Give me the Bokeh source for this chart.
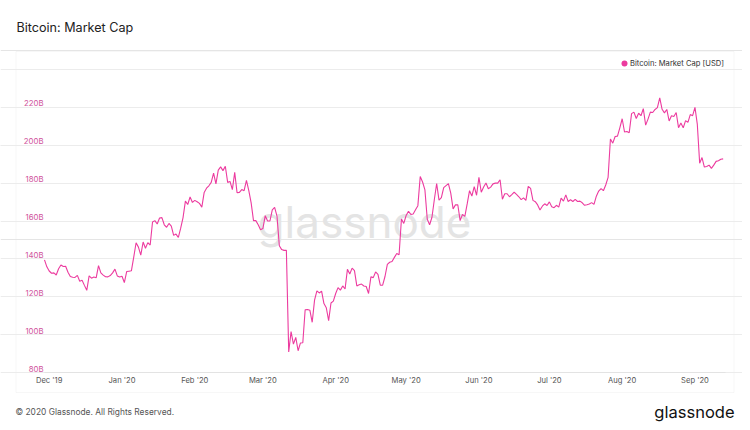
import pandas as pd
from datetime import timedelta
from bokeh.plotting import figure
from bokeh.models import (Range1d, MonthsTicker, DatetimeTickFormatter, FixedTicker,
                          PrintfTickFormatter, LinearAxis, Label, BoxAnnotation,
                          ColumnDataSource, Grid)
from bokeh.embed import file_html
from bokeh.resources import INLINE

# ---- data: Bitcoin market cap, billions USD, daily from 2019-11-29 ----
start_date = "2019-11-29"
end_date = "2020-09-14"
nov19 = [139.5, 135.8]
dec19 = [133.6, 132.4, 132.6, 131.5, 134.8, 136.8, 136.0, 136.1, 132.9, 130.7, 130.3,
         130.2, 131.3, 128.2, 128.7, 126.0, 123.4, 131.0, 129.8, 130.4, 130.0, 136.4,
         132.6, 131.4, 130.6, 130.5, 131.2, 132.6, 134.6, 131.0, 130.4]
jan20 = [130.8, 127.5, 133.3, 133.5, 133.7, 140.9, 148.5, 146.2, 142.0, 148.9, 145.6,
         148.6, 147.3, 159.5, 160.2, 158.4, 161.6, 161.8, 158.0, 156.7, 158.7, 157.3,
         152.4, 153.1, 151.3, 156.2, 161.8, 170.5, 168.7, 172.7, 169.8]
feb20 = [170.9, 170.2, 169.3, 167.3, 175.1, 177.3, 178.6, 180.4, 185.3, 179.6, 186.9,
         188.6, 186.6, 188.9, 180.4, 180.9, 176.6, 185.7, 174.9, 175.1, 176.6, 176.0,
         181.5, 176.0, 169.6, 160.2, 160.2, 158.0, 155.4]
mar20 = [156.0, 162.8, 160.0, 160.0, 165.9, 167.2, 162.6, 146.9, 144.9, 144.5, 144.5,
         90.8, 101.6, 95.0, 98.5, 91.5, 95.6, 95.7, 113.1, 113.3, 112.9, 106.5, 118.2,
         123.1, 122.0, 123.0, 116.4, 114.2, 107.4, 116.7, 117.7]
apr20 = [121.7, 124.8, 123.5, 125.7, 124.1, 134.5, 132.0, 135.1, 133.8, 125.7, 126.3,
         126.7, 125.7, 125.4, 121.7, 130.5, 130.1, 133.1, 131.8, 126.1, 126.1, 130.7,
         137.1, 138.2, 138.6, 140.8, 142.8, 142.2, 161.1, 158.7]
may20 = [162.9, 165.1, 163.5, 163.7, 165.9, 168.1, 183.5, 180.6, 176.4, 160.9, 158.0,
         162.0, 171.2, 179.8, 171.0, 172.3, 177.6, 178.7, 179.7, 174.7, 166.4, 168.5,
         168.6, 160.2, 163.5, 162.4, 169.0, 176.0, 173.2, 178.2, 173.6]
jun20 = [183.0, 175.2, 177.9, 180.1, 177.0, 177.9, 179.6, 180.0, 180.0, 181.8, 171.5,
         174.4, 174.4, 172.8, 173.9, 175.2, 174.1, 172.8, 171.3, 172.2, 170.9, 178.3,
         177.2, 170.9, 170.2, 168.5, 165.8, 167.8, 169.1, 168.2]
jul20 = [170.1, 167.5, 167.0, 168.3, 167.3, 172.1, 170.5, 173.8, 170.3, 171.2, 170.3,
         171.4, 170.3, 170.5, 169.6, 168.3, 168.6, 169.0, 169.7, 168.8, 173.1, 175.8,
         177.1, 176.0, 179.0, 183.0, 203.3, 201.1, 204.6, 204.8, 209.2]
aug20 = [214.0, 207.0, 207.3, 206.6, 216.7, 217.5, 214.1, 216.9, 215.6, 219.3, 210.6,
         213.8, 217.5, 217.3, 218.9, 219.9, 225.0, 219.0, 217.1, 218.9, 212.8, 215.6,
         215.2, 217.3, 209.3, 211.7, 209.2, 213.0, 212.1, 216.2, 215.6]
sep20 = [220.0, 211.0, 190.5, 193.5, 188.5, 188.8, 189.5, 187.8, 189.5, 191.5, 191.8,
         192.6, 192.8]

y_ticks = [80, 100, 120, 140, 160, 180, 200, 220]
grid_ticks = [80, 100, 120, 140, 160, 180, 200, 220, 240]
y_min, y_max = 80, 240
series_name = "Bitcoin: Market Cap [USD]"
title_text = "Bitcoin: Market Cap"
footer_text = "© 2020 Glassnode. All Rights Reserved."
brand_text = "glassnode"

values = nov19 + dec19 + jan20 + feb20 + mar20 + apr20 + may20 + jun20 + jul20 + aug20 + sep20
dates = pd.date_range(start_date, periods=len(values), freq="D")
src = ColumnDataSource(dict(date=dates, cap=values))

# ---- layout (canvas pixels) ----
W, H = 742, 422
PL, PR, PT, PB = 44, 725, 69, 372          # plot area edges
t0, t1 = pd.Timestamp(start_date), pd.Timestamp(end_date)
days = (t1 - t0).days
px_day = (PR - PL) / days
b_px = (y_max - y_min) / (PB - PT)
x_lo = t0 - timedelta(days=PL / px_day)
x_hi = t1 + timedelta(days=(W - PR) / px_day)
y_lo = y_min - (H - PB) * b_px
y_hi = y_max + PT * b_px
t0_ms = t0.timestamp() * 1000
t1_ms = t1.timestamp() * 1000

PINK = "#ec3b9f"
FONT = "Inter"

p = figure(width=W, height=H, x_axis_type="datetime", y_axis_location=None,
           output_backend="svg", toolbar_location=None,
           x_range=Range1d(x_lo, x_hi), y_range=Range1d(y_lo, y_hi),
           min_border_left=0, min_border_right=0, min_border_top=0, min_border_bottom=0)
p.outline_line_color = None
p.background_fill_color = "white"
p.border_fill_color = "white"
p.xgrid.visible = False

# outer card border
p.add_layout(BoxAnnotation(left=15.5, right=733.5, top=H - 51, bottom=H - 392,
                           left_units="screen", right_units="screen",
                           top_units="screen", bottom_units="screen",
                           fill_alpha=0, line_color="#e6e6e6", line_width=1,
                           level="underlay"))

# horizontal grid
p.add_layout(Grid(dimension=1, ticker=FixedTicker(ticks=grid_ticks), bounds=(t0_ms, t1_ms),
                  grid_line_color="#ececec", grid_line_width=1))

# y axis: labels sit a few pixels above their grid lines
shift = 4 * b_px
p.extra_y_ranges = {"lbl": Range1d(y_lo - shift, y_hi - shift)}
yax = LinearAxis(y_range_name="lbl", ticker=FixedTicker(ticks=y_ticks),
                 formatter=PrintfTickFormatter(format="%dB"), fixed_location=t0_ms)
yax.axis_line_color = None
yax.major_tick_line_color = None
yax.minor_tick_line_color = None
yax.major_tick_out = 0
yax.major_tick_in = 0
yax.major_label_standoff = 1
yax.major_label_text_font = FONT
yax.major_label_text_font_size = "7.8px"
yax.major_label_text_color = "#d0549c"
p.add_layout(yax, "left")

xax = p.xaxis[0]
xax.fixed_location = y_min
xax.bounds = (t0_ms, t1_ms)
xax.ticker = MonthsTicker(months=list(range(12)))
fmt = "%b '%y"
xax.formatter = DatetimeTickFormatter(months=fmt, days=fmt, years=fmt)
xax.axis_line_color = "#e3e3e3"
xax.major_tick_line_color = None
xax.minor_tick_line_color = None
xax.major_tick_out = 0
xax.major_tick_in = 0
xax.major_label_standoff = 3
xax.major_label_text_font = FONT
xax.major_label_text_font_size = "7.6px"
xax.major_label_text_color = "#555555"

# watermark
p.add_layout(Label(x=364, y=H - 221, x_units="screen", y_units="screen", text=brand_text,
                   text_align="center", text_baseline="middle",
                   text_font=FONT, text_font_size="44px", text_color="#e4e4e4",
                   level="underlay"))

p.line(x="date", y="cap", source=src, line_color=PINK, line_width=1.1)

# legend (dot + label)
p.add_layout(BoxAnnotation(left=621, right=627, top=H - 60, bottom=H - 66,
                           left_units="screen", right_units="screen",
                           top_units="screen", bottom_units="screen",
                           border_radius=3, fill_color=PINK, fill_alpha=1,
                           line_color=None))
p.add_layout(Label(x=629.5, y=H - 63, x_units="screen", y_units="screen", text=series_name,
                   text_baseline="middle", text_font=FONT, text_font_size="7.6px",
                   text_color="#333333"))

# title and footer
p.add_layout(Label(x=16, y=H - 27, x_units="screen", y_units="screen", text=title_text,
                   text_baseline="middle", text_font=FONT, text_font_size="12.6px",
                   text_color="#222222"))
p.add_layout(Label(x=15, y=H - 411, x_units="screen", y_units="screen",
                   text=footer_text,
                   text_baseline="middle", text_font=FONT, text_font_size="8.4px",
                   text_color="#555555"))
p.add_layout(Label(x=734, y=H - 411, x_units="screen", y_units="screen", text=brand_text,
                   text_align="right", text_baseline="middle", text_font=FONT,
                   text_font_size="16.5px", text_color="#111111"))

open("out.html", "w").write(file_html(p, INLINE))
